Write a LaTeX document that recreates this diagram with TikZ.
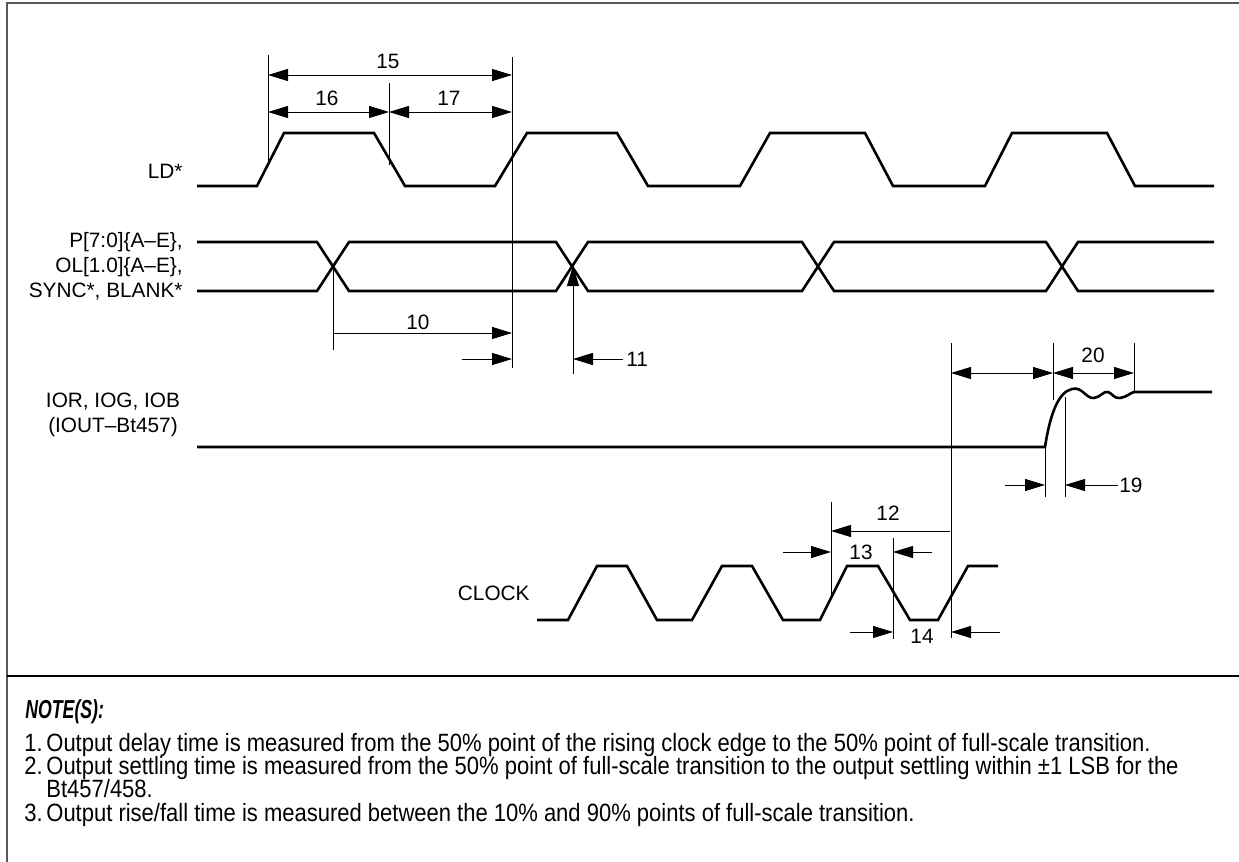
\documentclass[tikz,border=0pt]{standalone}
\usepackage{fontspec}
\setmainfont{Liberation Sans}
\newfontfamily\notefont[FakeStretch=0.88]{Liberation Sans}
\newfontfamily\headfont[FakeStretch=0.68]{Liberation Sans}
\usetikzlibrary{arrows.meta}

\begin{document}
\begin{tikzpicture}[x=0.5pt,y=-0.5pt,font=\fontsize{10.4}{12.5}\selectfont,
  >={Triangle[length=10pt,width=6pt]},
  wave/.style={line width=1.3pt,line join=miter},
  dim/.style={line width=0.5pt},
  lbl/.style={inner sep=1pt},
  sig/.style={inner sep=0pt,anchor=east,align=right},
  note/.style={inner sep=0pt,anchor=base west,font=\notefont\fontsize{12.5}{13}\selectfont}]
  \useasboundingbox (0,0) rectangle (1239,862);
  % frame and divider
  \draw[line width=1pt,black!65] (7,862) -- (7,3) -- (1239,3);
  \draw[line width=1pt] (7,676) -- (1239,676);

  % signal names
  \node[sig] (ld) at (183,171) {LD*};
  \node[sig] (bus) at (183,266) {P[7:0]\{A--E\},\\OL[1.0]\{A--E\},\\SYNC*, BLANK*};
  \node[align=center,inner sep=0pt] (iout) at (113,415) {IOR, IOG, IOB\\(IOUT--Bt457)};
  \node[sig] (clk) at (530,593) {CLOCK};

  % LD*
  \draw[wave] (197,186) -- (257,186) -- (284,133) -- (374,133) -- (405,186) -- (495,186)
    -- (527,133) -- (617,133) -- (648,186) -- (740,186) -- (770,133) -- (865,133)
    -- (893,186) -- (985,186) -- (1012,133) -- (1107,133) -- (1135,186) -- (1214,186);
  % data bus
  \draw[wave] (197,242) -- (317,242) -- (349,291) -- (556,291) -- (588,242) -- (802,242)
    -- (834,291) -- (1046,291) -- (1078,242) -- (1214,242);
  \draw[wave] (197,291) -- (317,291) -- (349,242) -- (556,242) -- (588,291) -- (802,291)
    -- (834,242) -- (1046,242) -- (1078,291) -- (1214,291);
  % analog output
  \draw[wave] (197,447) -- (1045,447) .. controls (1050,415) and (1058,392) .. (1072,389)
    .. controls (1082,386) and (1086,399) .. (1094,398) .. controls (1101,397) and (1103,391) .. (1108,392)
    .. controls (1112,393) and (1114,399) .. (1120,398) .. controls (1127,397) and (1130,393) .. (1134,392)
    -- (1212,392);
  % clock
  \draw[wave] (537,620) -- (568,620) -- (597,566) -- (627,566) -- (657,620) -- (692,620)
    -- (722,566) -- (752,566) -- (783,620) -- (820,620) -- (847,566) -- (878,566)
    -- (910,620) -- (938,620) -- (968,566) -- (998,566);

  % 15, 16, 17
  \draw[dim] (268,55) -- (268,162);
  \draw[dim] (389,83) -- (389,165);
  \draw[dim] (512,57) -- (512,368);
  \draw[dim,<->] (268,75) -- (512,75);
  \draw[dim,<->] (268,112) -- (389,112);
  \draw[dim,<->] (389,112) -- (512,112);
  \node[lbl] (t15) at (388,61) {15};
  \node[lbl] (t16) at (327,98) {16};
  \node[lbl] (t17) at (449,98) {17};

  % 10, 11
  \draw[dim] (333,266) -- (333,350);
  \draw[dim,->] (333,333) -- (512,333);
  \draw[dim,->] (462,359) -- (512,359);
  \node[lbl] (t10) at (418,322) {10};
  \draw[dim,->] (573,374) -- (573,266);
  \draw[dim,->] (623,359) -- (573,359);
  \node[lbl,anchor=west] (t11) at (624,359) {11};

  % 19, 20
  \draw[dim] (951,343) -- (951,638);
  \draw[dim] (1053,343) -- (1053,400);
  \draw[dim] (1134,343) -- (1134,392);
  \draw[dim] (1045,447) -- (1045,497);
  \draw[dim] (1065,397) -- (1065,497);
  \draw[dim,<->] (951,373) -- (1053,373);
  \draw[dim,<->] (1053,373) -- (1134,373);
  \node[lbl] (t20) at (1093,355) {20};
  \draw[dim,->] (1005,485) -- (1045,485);
  \draw[dim,->] (1118,485) -- (1065,485);
  \node[lbl,anchor=west] (t19) at (1117,485) {19};

  % 12, 13, 14
  \draw[dim] (831,502) -- (831,598);
  \draw[dim] (893,538) -- (893,639);
  \draw[dim,->] (950,531) -- (831,531);
  \node[lbl] (t12) at (888,513) {12};
  \draw[dim,->] (783,552) -- (831,552);
  \draw[dim,->] (932,552) -- (893,552);
  \node[lbl] (t13) at (861,552) {13};
  \draw[dim,->] (850,632) -- (893,632);
  \draw[dim,->] (1000,632) -- (951,632);
  \node[lbl] (t14) at (922,636) {14};

  % notes
  \node[note,font=\headfont\bfseries\itshape\fontsize{13}{14}\selectfont] (nhead) at (25,718) {NOTE(S):};
  \node[note] (n1) at (24,751) {1.};
  \node[note] (n1t) at (46,751) {Output delay time is measured from the 50\% point of the rising clock edge to the 50\% point of full-scale transition.};
  \node[note] (n2) at (24,774) {2.};
  \node[note] (n2t) at (46,774) {Output settling time is measured from the 50\% point of full-scale transition to the output settling within ±1 LSB for the};
  \node[note] (n2u) at (46,797) {Bt457/458.};
  \node[note] (n3) at (24,821) {3.};
  \node[note] (n3t) at (46,821) {Output rise/fall time is measured between the 10\% and 90\% points of full-scale transition.};
\end{tikzpicture}
\end{document}
